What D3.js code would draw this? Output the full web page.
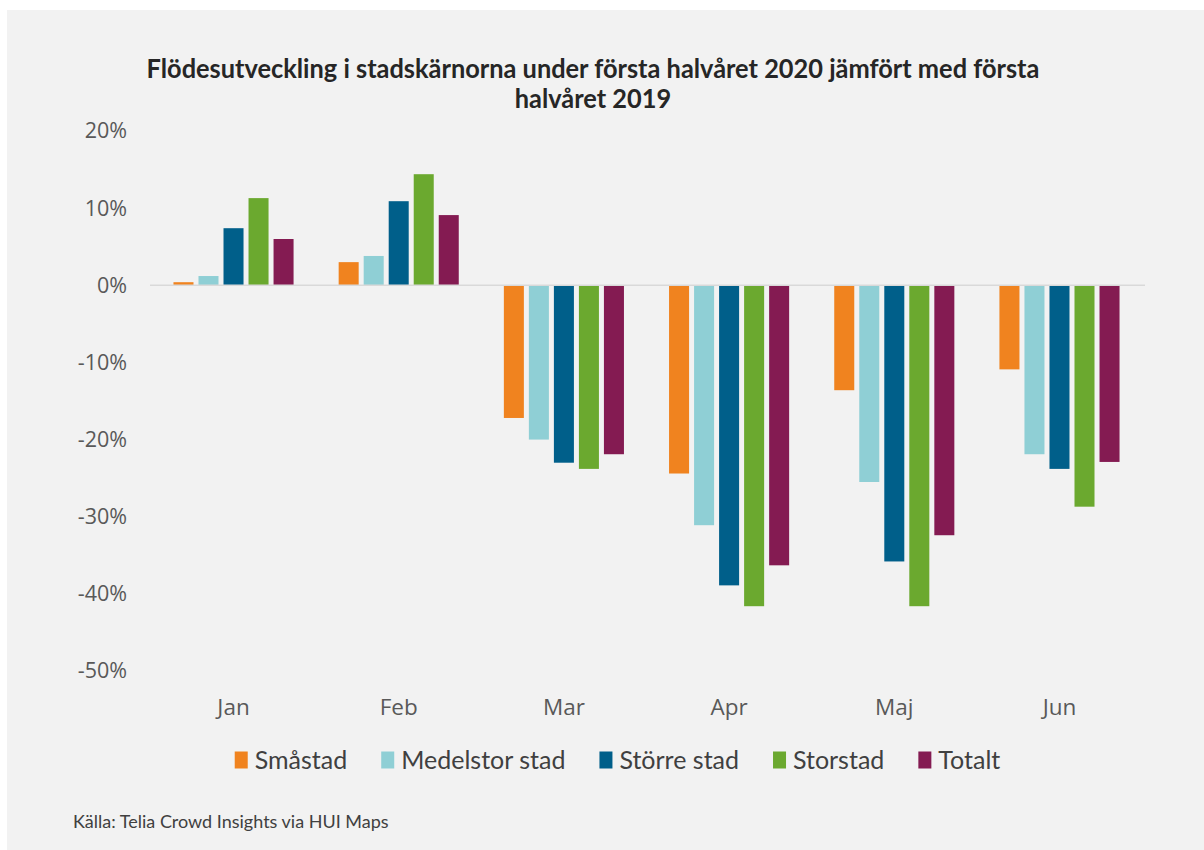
<!DOCTYPE html>
<html>
<head>
<meta charset="utf-8">
<script src="https://cdn.jsdelivr.net/npm/d3@7"></script>
<style>
  html, body { margin: 0; padding: 0; background: #ffffff; }
  svg { display: block; }
</style>
</head>
<body>
<svg id="chart" width="1204" height="850"></svg>
<script>
// ---- data ----
const months = ["Jan", "Feb", "Mar", "Apr", "Maj", "Jun"];
const seriesNames = ["Småstad", "Medelstor stad", "Större stad", "Storstad", "Totalt"];
const smastad   = [0.4, 3.0, -17.2, -24.4, -13.6, -10.9];
const medelstor = [1.2, 3.8, -20.0, -31.1, -25.5, -21.9];
const storreStad = [7.4, 10.9, -23.0, -38.9, -35.8, -23.8];
const storstad  = [11.3, 14.4, -23.8, -41.6, -41.6, -28.7];
const totalt    = [6.0, 9.1, -21.9, -36.3, -32.4, -22.9];
const yTicks = [20, 10, 0, -10, -20, -30, -40, -50];
const titleLines = ["Flödesutveckling i stadskärnorna under första halvåret 2020 jämfört med första", "halvåret 2019"];
const sourceText = "Källa: Telia Crowd Insights via HUI Maps";

const seriesValues = [smastad, medelstor, storreStad, storstad, totalt];
const colors = ["#f0831f", "#8fcfd5", "#005f8a", "#6ba92f", "#841b52"];

const svg = d3.select("#chart");
// panel background
svg.append("rect").attr("x", 7).attr("y", 10).attr("width", 1197).attr("height", 840).attr("fill", "#f2f2f2");

const plot = { left: 151, right: 1142, top: 131, bottom: 671 };

const y = d3.scaleLinear().domain([-50, 20]).range([plot.bottom, plot.top]);
const x0 = d3.scaleBand().domain(months).range([plot.left, plot.right]).paddingInner(0.273).paddingOuter(0.136);
const x1 = d3.scaleBand().domain(seriesNames).range([0, x0.bandwidth()]).paddingInner(0.2).paddingOuter(0);

// title (condensed to mimic the narrow original face)
const titleScale = 0.94;
svg.append("g").selectAll("text").data(titleLines).join("text")
  .attr("text-anchor", "middle")
  .attr("transform", (d, i) => `translate(593,${78 + i * 30}) scale(${titleScale},1)`)
  .attr("font-family", "Lato, 'Open Sans', sans-serif")
  .attr("font-weight", "bold")
  .attr("font-size", 27)
  .attr("fill", "#262626")
  .text(d => d);

// y axis (labels only)
const yAxis = d3.axisLeft(y).tickValues(yTicks).tickSize(0).tickPadding(0).tickFormat(d => d + "%");
const gy = svg.append("g").attr("transform", `translate(127,0)`).call(yAxis);
gy.select(".domain").remove();
gy.selectAll("text").attr("font-family", "'Open Sans', sans-serif").attr("font-size", 21.5).attr("fill", "#595959");

// bars
const data = months.map((m, i) => ({ month: m, vals: seriesNames.map((s, j) => ({ s, j, v: seriesValues[j][i] })) }));
const groups = svg.append("g").selectAll("g").data(data).join("g")
  .attr("transform", d => `translate(${x0(d.month)},0)`);
groups.selectAll("rect").data(d => d.vals).join("rect")
  .attr("x", d => x1(d.s))
  .attr("width", x1.bandwidth())
  .attr("y", d => y(Math.max(0, d.v)))
  .attr("height", d => Math.abs(y(d.v) - y(0)))
  .attr("fill", d => colors[d.j]);

// zero line
svg.append("line").attr("x1", plot.left - 1).attr("x2", plot.right + 3)
  .attr("y1", y(0)).attr("y2", y(0)).attr("stroke", "#d9d9d9").attr("stroke-width", 1.5);

// x axis labels
const xAxis = d3.axisBottom(x0).tickSize(0).tickPadding(0);
const gx = svg.append("g").attr("transform", `translate(0,707)`).call(xAxis);
gx.select(".domain").remove();
gx.selectAll("text").attr("dy", "0.35em").attr("font-family", "'Open Sans', sans-serif").attr("font-size", 22.5).attr("fill", "#595959");

// legend
const legend = svg.append("g");
const items = legend.selectAll("g").data(seriesNames).join("g");
items.append("rect").attr("width", 13).attr("height", 17).attr("y", -8.5).attr("fill", (d, i) => colors[i]);
items.append("text").attr("x", 20).attr("dy", "0.35em")
  .attr("font-family", "Lato, 'Open Sans', sans-serif").attr("font-size", 25).attr("fill", "#404040")
  .text(d => d);
const gaps = 34;
const widths = items.nodes().map(n => 20 + d3.select(n).select("text").node().getComputedTextLength());
const total = d3.sum(widths) + gaps * (widths.length - 1);
let start = 617.5 - total / 2;
items.attr("transform", (d, i) => {
  const t = `translate(${start},760)`;
  start += widths[i] + gaps;
  return t;
});

// source
svg.append("text").attr("x", 73).attr("y", 828)
  .attr("font-family", "Lato, 'Open Sans', sans-serif").attr("font-size", 18).attr("fill", "#404040")
  .text(sourceText);
</script>
</body>
</html>
